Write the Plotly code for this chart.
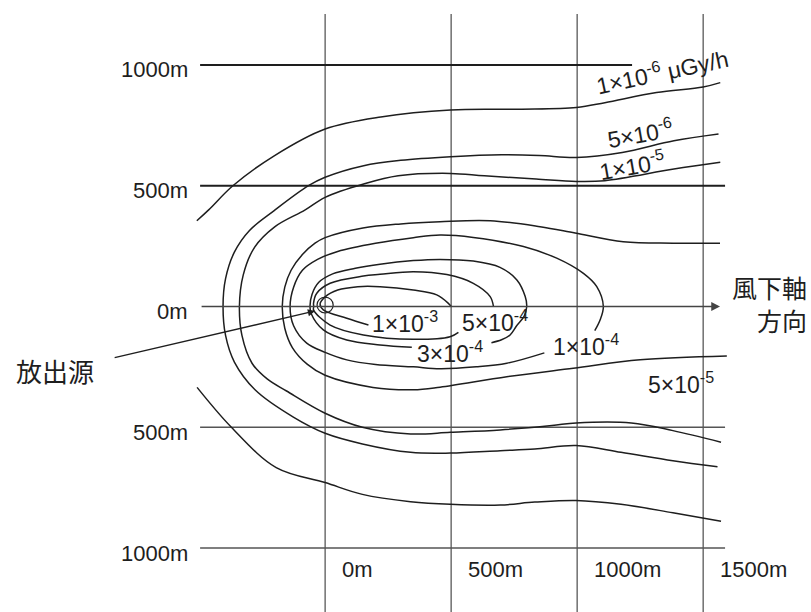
import plotly.graph_objects as go

# ---------------- grid & tick labels (metres) ----------------
X_GRID = [0, 500, 1000, 1500]
Y_GRID = [1000, 500, 0, -500, -1000]
X_TICK_TEXT = ["0m", "500m", "1000m", "1500m"]
Y_TICK_TEXT = ["1000m", "500m", "0m", "500m", "1000m"]

# ---------------- contour lines (metres) ----------------
# 1x10^-6 (open on the upwind side)
C1E6_UP_X = [-509, -462, -366, -202, 0, 221, 498, 768, 997, 1110, 1315, 1500, 1568]
C1E6_UP_Y = [355, 400, 500, 624, 735, 785, 814, 817, 824, 844, 886, 909, 927]
C1E6_LO_X = [-508, -372, -194, 0, 148, 339, 497, 695, 832, 996, 1174, 1380, 1571]
C1E6_LO_Y = [-335, -500, -667, -729, -778, -808, -819, -822, -810, -803, -819, -854, -889]

# 5x10^-6
C5E6_X = [1561, 1384, 1179, 997, 850, 700, 498, 300, 153, 0, -66, -202, -300, -360, -395, -405,
          -395, -360, -276, -126, 0, 148, 339, 497, 695, 832, 996, 1174, 1380, 1557]
C5E6_Y = [714, 686, 638, 617, 625, 628, 620, 605, 583, 535, 500, 397, 315, 225, 115, 0,
          -120, -230, -347, -458, -525, -569, -604, -607, -597, -590, -576, -604, -639, -664]

# 1x10^-5
C1E5_X = [1568, 1384, 1110, 997, 837, 632, 498, 290, 153, 0, -79, -200, -280, -325, -340,
          -330, -290, -230, -153, 0, 148, 339, 497, 695, 900, 996, 1215, 1380, 1571]
C1E5_Y = [597, 569, 521, 518, 528, 541, 551, 541, 507, 452, 400, 330, 245, 130, 0,
          -120, -235, -300, -350, -442, -500, -528, -521, -511, -493, -482, -482, -514, -562]

# 5x10^-5
C5E5_X = [1567, 1381, 1183, 992, 853, 655, 456, 300, 150, 0, -40, -90, -135, -160, -170,
          -160, -130, -70, 0, 190, 350, 456, 721, 985, 1250, 1594]
C5E5_Y = [262, 262, 268, 304, 330, 355, 351, 342, 325, 285, 262, 215, 150, 80, 0,
          -90, -170, -240, -285, -335, -345, -334, -291, -256, -221, -205]

# 1x10^-4 (closed, broken by its label)
C1E4_X = [1070, 1091, 1104, 1078, 1025, 919, 787, 588, 456, 350, 200, 50, -30, -90, -125, -139,
          -125, -73, 0, 86, 200, 350, 456, 600, 721, 870]
C1E4_Y = [-100, -56, 0, 82, 137, 200, 248, 286, 296, 285, 262, 228, 195, 150, 80, 0,
          -80, -152, -190, -221, -240, -250, -258, -250, -235, -192]

# 3x10^-4 (closed, broken by its label)
C3E4_X = [660, 700, 734, 760, 790, 800, 794, 761, 694, 588, 456, 350, 218, 120, 30, -25, -52, -60,
          -55, -7, 86, 218, 344]
C3E4_Y = [-150, -138, -118, -80, -40, 0, 41, 110, 162, 188, 195, 190, 175, 158, 135, 100, 50, 0,
          -30, -97, -139, -159, -169]

# 5x10^-4
C5E4_X = [668, 655, 588, 483, 350, 218, 152, 20, -33, -46, -45, -46, 20, 152, 350, 496, 529]
C5E4_Y = [0, 41, 96, 132, 144, 133, 126, 96, 55, 13, 0, -14, -77, -118, -136, -125, -107]

# 1x10^-3
C1E3_X = [500, 489, 443, 350, 218, 130, 50, 0, -20, -7, 86, 172]
C1E3_Y = [0, 13, 48, 68, 82, 82, 68, 40, 10, -14, -49, -77]

# contour labels: text, position (metres), rotation
LABEL_TEXT = ["1×10<sup>-6</sup> μGy/h", "5×10<sup>-6</sup>", "1×10<sup>-5</sup>",
              "1×10<sup>-3</sup>", "5×10<sup>-4</sup>", "3×10<sup>-4</sup>",
              "1×10<sup>-4</sup>", "5×10<sup>-5</sup>"]
LABEL_X = [1337, 1250, 1218, 317, 674, 496, 1035, 1412]
LABEL_Y = [975, 718, 586, -64, -60, -188, -159, -317]
LABEL_ANGLE = [-12, -10, -10, 0, 0, 0, 0, 0]

# source and arrows
SOURCE = (0, 6)
SOURCE_ARROW_TAIL = (-841, -213)
SOURCE_ARROW_HEAD = (-40, -19)
SOURCE_TEXT = "放出源"
SOURCE_TEXT_POS = (-1072, -263)
WIND_TEXT = "風下軸<br>方向"
WIND_TEXT_POS = (1920, 12)

# ---------------- figure ----------------
INK = "#1e1e1e"
GRID = "#3a3a3a"
fig = go.Figure()

# vertical grid lines
for xv in X_GRID:
    fig.add_trace(go.Scatter(x=[xv, xv], y=[1211, -1300], mode="lines",
                             line=dict(color=GRID, width=1.1), hoverinfo="skip"))
# horizontal grid lines (0m drawn as arrow below)
for yv in Y_GRID:
    if yv == 0:
        continue
    xe = 1218 if yv == 1000 else 1587
    w = 2.0 if yv > 0 else 1.6
    col = INK if yv > 0 else "#555555"
    fig.add_trace(go.Scatter(x=[-496, xe], y=[yv, yv], mode="lines",
                             line=dict(color=col, width=w), hoverinfo="skip"))

def add_line(xs, ys):
    fig.add_trace(go.Scatter(x=xs, y=ys, mode="lines",
                             line=dict(color=INK, width=1.5, shape="spline", smoothing=1.0),
                             hoverinfo="skip"))

add_line(C1E6_UP_X, C1E6_UP_Y)
add_line(C1E6_LO_X, C1E6_LO_Y)
add_line(C5E6_X, C5E6_Y)
add_line(C1E5_X, C1E5_Y)
add_line(C5E5_X, C5E5_Y)
add_line(C1E4_X, C1E4_Y)
add_line(C3E4_X, C3E4_Y)
add_line(C5E4_X, C5E4_Y)
add_line(C1E3_X, C1E3_Y)

# source circle
fig.add_shape(type="circle", xref="x", yref="y",
              x0=SOURCE[0] - 32, x1=SOURCE[0] + 32, y0=SOURCE[1] - 33, y1=SOURCE[1] + 33,
              line=dict(color=INK, width=1.2))

ann = []
FONT = "Liberation Sans, Arial, sans-serif"
CJK = "Noto Sans CJK JP"
# downwind axis arrow
ann.append(dict(x=1567, y=0, ax=-496, ay=0, xref="x", yref="y", axref="x", ayref="y",
                text="", showarrow=True, arrowhead=2, arrowsize=1.1, arrowwidth=1.6,
                arrowcolor="#444444", standoff=0))
# source arrow
ann.append(dict(x=SOURCE_ARROW_HEAD[0], y=SOURCE_ARROW_HEAD[1],
                ax=SOURCE_ARROW_TAIL[0], ay=SOURCE_ARROW_TAIL[1],
                xref="x", yref="y", axref="x", ayref="y", text="", showarrow=True,
                arrowhead=2, arrowsize=1.1, arrowwidth=1.3, arrowcolor=INK, standoff=0))
# y tick labels
for yv, t in zip(Y_GRID, Y_TICK_TEXT):
    ann.append(dict(x=-536, y=yv, xref="x", yref="y", text=t, showarrow=False,
                    xanchor="right", yanchor="middle", yshift=-5,
                    font=dict(family=FONT, size=22, color=INK)))
# x tick labels
for xv, t in zip(X_GRID, X_TICK_TEXT):
    ann.append(dict(x=xv, y=-1091, xref="x", yref="y", text=t, showarrow=False,
                    xanchor="left", yanchor="middle", xshift=15,
                    font=dict(family=FONT, size=22, color=INK)))
# contour labels
for t, lx, ly, ang in zip(LABEL_TEXT, LABEL_X, LABEL_Y, LABEL_ANGLE):
    ann.append(dict(x=lx, y=ly, xref="x", yref="y", text=t, showarrow=False,
                    xanchor="center", yanchor="middle", textangle=ang,
                    font=dict(family=FONT, size=23, color=INK)))
# Japanese text
ann.append(dict(x=SOURCE_TEXT_POS[0], y=SOURCE_TEXT_POS[1], xref="x", yref="y",
                text=SOURCE_TEXT, showarrow=False, xanchor="center", yanchor="middle",
                font=dict(family=CJK, size=26, color=INK)))
ann.append(dict(x=WIND_TEXT_POS[0], y=WIND_TEXT_POS[1], xref="x", yref="y",
                text=WIND_TEXT, showarrow=False, xanchor="right", yanchor="middle",
                align="right", font=dict(family=CJK, size=25, color=INK)))

fig.update_layout(
    width=811, height=612,
    margin=dict(l=0, r=0, t=0, b=0),
    paper_bgcolor="white", plot_bgcolor="white",
    showlegend=False,
    xaxis=dict(range=[-1290, 1928], visible=False, fixedrange=True),
    yaxis=dict(range=[-1265, 1269], visible=False, fixedrange=True),
    annotations=ann,
)

fig.write_html("out.html", config={"displayModeBar": False},
               post_script="document.body.style.margin='0';")
